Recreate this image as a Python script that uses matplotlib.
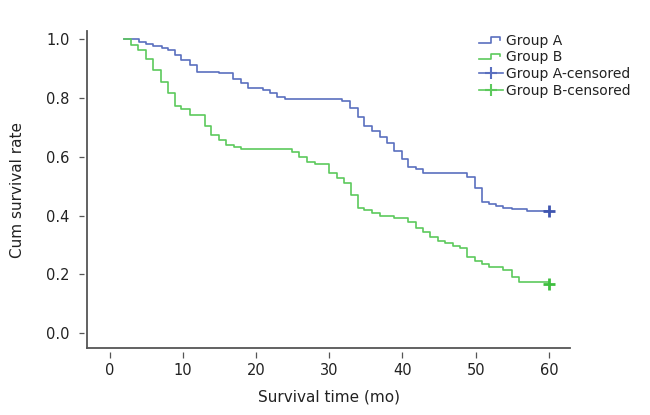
import numpy as np
import matplotlib
matplotlib.use('Agg')
import matplotlib.pyplot as plt
from matplotlib.lines import Line2D
from matplotlib.legend_handler import HandlerBase

# Kaplan-Meier step values (time in months, survival)
time_a = [2.0, 4.0, 4.9, 5.9, 7.1, 7.9, 8.9, 9.8, 10.9, 11.9, 14.9, 16.9, 17.9,
          18.9, 20.9, 21.9, 22.9, 23.9, 31.8, 32.8, 33.9, 34.8, 35.8, 36.9, 37.9,
          38.9, 39.9, 40.8, 41.9, 42.8, 48.8, 49.9, 50.8, 51.8, 52.8, 53.7, 54.9,
          57.0, 60.0]
surv_a = [1.0, 0.99, 0.983, 0.977, 0.968, 0.963, 0.946, 0.929, 0.912, 0.889, 0.883,
          0.864, 0.849, 0.834, 0.827, 0.815, 0.804, 0.796, 0.79, 0.764, 0.736, 0.704,
          0.688, 0.668, 0.645, 0.619, 0.591, 0.564, 0.557, 0.543, 0.532, 0.492, 0.447,
          0.439, 0.433, 0.426, 0.421, 0.415, 0.415]

time_b = [2.0, 2.9, 3.8, 4.9, 5.9, 7.0, 7.9, 8.9, 9.8, 10.9, 13.0, 13.9, 14.9, 15.9,
          17.0, 18.0, 24.9, 25.8, 26.9, 28.0, 29.9, 31.0, 32.0, 32.9, 33.9, 34.8,
          35.9, 36.9, 38.8, 40.7, 41.8, 42.8, 43.7, 44.8, 45.8, 46.9, 47.8, 48.8,
          49.9, 50.8, 51.8, 53.8, 54.9, 55.9, 60.0]
surv_b = [1.0, 0.98, 0.963, 0.931, 0.895, 0.853, 0.817, 0.772, 0.761, 0.741, 0.704,
          0.673, 0.656, 0.639, 0.634, 0.626, 0.617, 0.6, 0.583, 0.574, 0.545, 0.526,
          0.509, 0.469, 0.424, 0.418, 0.407, 0.398, 0.39, 0.379, 0.356, 0.345, 0.328,
          0.314, 0.307, 0.297, 0.288, 0.26, 0.246, 0.235, 0.226, 0.214, 0.192, 0.174,
          0.174]

cens_a = [(60.0, 0.415)]
cens_b = [(60.0, 0.168)]

labels = ['Group A', 'Group B', 'Group A-censored', 'Group B-censored']

blue = '#5a6fbf'
green = '#5cc95c'
axcol = '#555555'
txt = '#222222'

plt.rcParams['font.family'] = ['DejaVu Sans']


class StepHandler(HandlerBase):
    # small step icon like the SPSS legend
    def create_artists(self, legend, orig_handle, xdescent, ydescent,
                       width, height, fontsize, trans):
        lo = -ydescent + height * 0.2
        hi = -ydescent + height * 0.75
        x0 = -xdescent
        xs = [x0, x0 + width * 0.5, x0 + width * 0.5, x0 + width * 0.88, x0 + width * 0.88]
        ys = [lo, lo, hi, hi, hi - height * 0.25]
        ln = Line2D(xs, ys, color=orig_handle.get_color(), lw=1.2, transform=trans)
        return [ln]


fig = plt.figure(figsize=(6.5, 4.15), dpi=100)
ax = fig.add_axes([0.134, 0.161, 0.743, 0.764])

la, = ax.step(time_a, surv_a, where='post', color=blue, lw=1.2)
lb, = ax.step(time_b, surv_b, where='post', color=green, lw=1.2)
ca, = ax.plot([c[0] for c in cens_a], [c[1] for c in cens_a], ls='none', marker='+',
              ms=9, mew=2, color='#3f55b0')
cb, = ax.plot([c[0] for c in cens_b], [c[1] for c in cens_b], ls='none', marker='+',
              ms=9, mew=2, color='#3fbf3f')

ax.set_xlim(-3.1, 62.9)
ax.set_ylim(-0.051, 1.027)
ax.set_xticks(np.arange(0, 61, 10))
ax.set_yticks(np.arange(0, 1.01, 0.2))
ax.set_yticklabels(['%.1f' % v for v in np.arange(0, 1.01, 0.2)])

# SPSS style: ticks sit a few pixels away from the axis lines
for s in ['top', 'right']:
    ax.spines[s].set_visible(False)
for s in ['left', 'bottom']:
    ax.spines[s].set_position(('outward', 2.5))
    ax.spines[s].set_color('none')
ax.plot([0, 0], [0, 1], transform=ax.transAxes, color=axcol, lw=1.3, clip_on=False)
ax.plot([0, 1], [0, 0], transform=ax.transAxes, color=axcol, lw=1.3, clip_on=False)

ax.tick_params(axis='x', length=4.5, width=0.9, color=axcol, pad=3.5,
               labelsize=10.5, labelcolor=txt)
ax.tick_params(axis='y', length=3.3, width=0.9, color=axcol, pad=7,
               labelsize=10.5, labelcolor=txt)

ax.set_xlabel('Survival time (mo)', fontsize=11, color=txt)
ax.set_ylabel('Cum survival rate', fontsize=11, color=txt)
ax.xaxis.set_label_coords(0.5, -0.13)
ax.yaxis.set_label_coords(-0.128, 0.5)

hla = Line2D([], [], color=blue, marker='+', ms=9, mew=1.5, lw=1.2)
hlb = Line2D([], [], color=green, marker='+', ms=9, mew=1.5, lw=1.2)
ax.legend([la, lb, hla, hlb], labels,
          handler_map={la: StepHandler(), lb: StepHandler()},
          loc='upper left', bbox_to_anchor=(0.8, 1.01), frameon=False,
          fontsize=10, handlelength=1.75, handletextpad=0.2, labelspacing=0.2,
          borderaxespad=0.0, labelcolor=txt)

fig.savefig('out.png', dpi=100)
